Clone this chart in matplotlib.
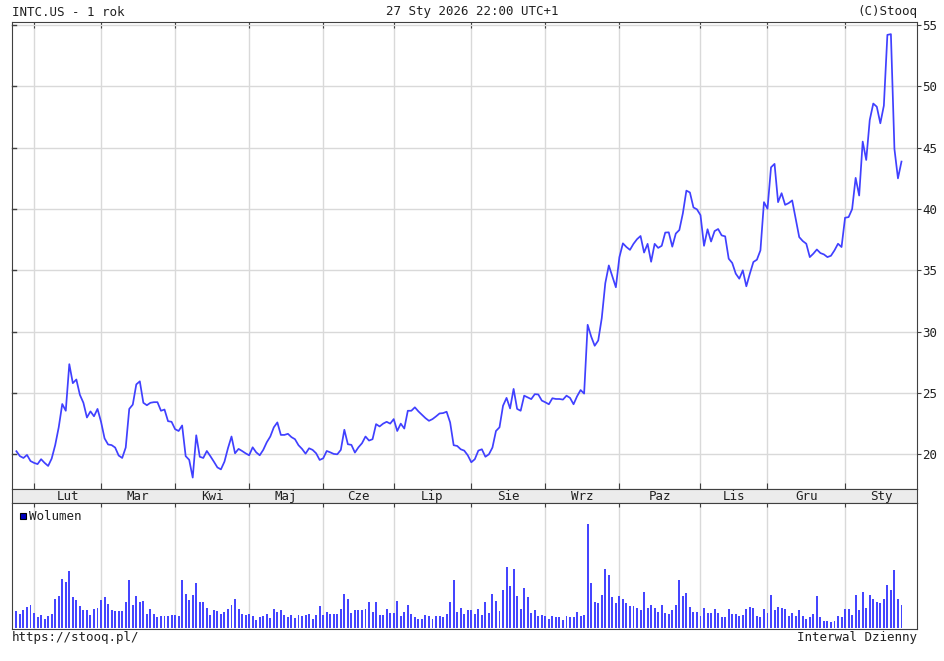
import matplotlib
matplotlib.use("Agg")
import matplotlib.pyplot as plt
import pandas as pd

plt.rcParams['font.family'] = ['DejaVu Sans Mono']

# sesje od 27.01.2025 do 27.01.2026 (NYSE)
start = '2025-01-27'
end = '2026-01-27'
swieta = ['2025-02-17', '2025-04-18', '2025-05-26', '2025-06-19', '2025-07-04',
          '2025-09-01', '2025-11-27', '2025-12-25', '2026-01-01', '2026-01-19']

miesiace = ['Sty', 'Lut', 'Mar', 'Kwi', 'Maj', 'Cze', 'Lip', 'Sie', 'Wrz',
            'Paz', 'Lis', 'Gru']

# kurs zamkniecia INTC.US
kurs = [20.25, 19.85, 19.7, 19.95, 19.45, 19.3, 19.2, 19.6, 19.3, 19.05,
        19.65, 20.75, 22.2, 24.1, 23.55, 27.35, 25.8, 26.1, 24.85, 24.2,
        23.0, 23.5, 23.1, 23.7, 22.65, 21.3, 20.8, 20.75, 20.55, 19.9,
        19.7, 20.55, 23.7, 24.05, 25.7, 25.95, 24.2, 24.0, 24.2, 24.25,
        24.25, 23.55, 23.65, 22.7, 22.65, 22.05, 21.9, 22.35, 19.85, 19.55,
        18.1, 21.55, 19.8, 19.7, 20.27, 19.85, 19.4, 18.93, 18.77, 19.4,
        20.5, 21.45, 20.08, 20.44, 20.27, 20.08, 19.92, 20.57, 20.16, 19.92,
        20.36, 20.98, 21.45, 22.2, 22.6, 21.58, 21.58, 21.67, 21.4, 21.23,
        20.74, 20.44, 20.05, 20.49, 20.36, 20.08, 19.54, 19.67, 20.27, 20.16,
        20.03, 20.0, 20.36, 22.0, 20.82, 20.77, 20.14, 20.57, 20.9, 21.45,
        21.12, 21.23, 22.46, 22.27, 22.5, 22.65, 22.5, 22.87, 21.9, 22.5,
        22.1, 23.55, 23.55, 23.83, 23.5, 23.22, 22.95, 22.73, 22.87, 23.09,
        23.33, 23.36, 23.47, 22.6, 20.74, 20.68, 20.41, 20.3, 19.92, 19.35,
        19.6, 20.3, 20.41, 19.8, 20.0, 20.55, 21.9, 22.2, 23.96, 24.6,
        23.74, 25.33, 23.7, 23.55, 24.78, 24.64, 24.5, 24.9, 24.88, 24.38,
        24.24, 24.08, 24.57, 24.51, 24.51, 24.46, 24.78, 24.6, 24.08, 24.73,
        25.24, 24.95, 30.56, 29.6, 28.85, 29.28, 31.1, 33.95, 35.4, 34.5,
        33.62, 36.07, 37.2, 36.9, 36.67, 37.16, 37.54, 37.8, 36.45, 37.16,
        35.7, 37.16, 36.83, 37.0, 38.08, 38.1, 36.93, 38.0, 38.29, 39.65,
        41.5, 41.35, 40.13, 39.97, 39.5, 37.0, 38.35, 37.35, 38.2, 38.37,
        37.85, 37.77, 35.95, 35.6, 34.73, 34.32, 35.0, 33.7, 34.73, 35.68,
        35.87, 36.63, 40.56, 40.02, 43.4, 43.68, 40.56, 41.29, 40.34, 40.48,
        40.7, 39.2, 37.71, 37.39, 37.17, 36.08, 36.36, 36.7, 36.41, 36.3,
        36.08, 36.19, 36.63, 37.17, 36.9, 39.29, 39.34, 39.99, 42.54, 41.1,
        45.5, 44.0, 47.26, 48.6, 48.34, 46.99, 48.43, 54.2, 54.26, 44.9,
        42.5, 43.87]

# wolumen (jednostki umowne)
wolumen = [50, 43, 53, 62, 70, 45, 32, 39, 28, 35,
           42, 88, 95, 147, 137, 169, 92, 85, 67, 53,
           53, 39, 57, 60, 85, 92, 73, 55, 50, 50,
           50, 77, 144, 70, 95, 78, 82, 42, 57, 42,
           32, 35, 35, 35, 39, 39, 35, 144, 102, 85,
           98, 134, 78, 78, 60, 39, 53, 50, 42, 49,
           57, 69, 88, 57, 42, 40, 42, 37, 25, 32,
           35, 42, 30, 57, 47, 53, 39, 32, 39, 30,
           39, 35, 39, 42, 28, 39, 67, 39, 49, 42,
           42, 42, 57, 102, 88, 45, 53, 53, 53, 57,
           78, 49, 78, 39, 39, 57, 45, 45, 81, 35,
           49, 70, 42, 32, 28, 28, 39, 35, 28, 35,
           35, 32, 42, 78, 144, 49, 60, 42, 53,
           53, 43, 57, 39, 78, 45, 102, 81, 50, 113,
           183, 127, 176, 95, 57, 120, 92, 45, 53, 35,
           39, 35, 28, 35, 32, 32, 25, 35, 32, 32,
           49, 35, 39, 310, 134, 78, 74, 99, 176, 158,
           92, 74, 95, 88, 74, 67, 67, 60, 53, 109,
           60, 70, 60, 49, 70, 46, 42, 53, 70, 144,
           95, 106, 63, 49, 49, 35, 60, 46, 46, 57,
           46, 32, 32, 57, 42, 42, 35, 39, 57, 63,
           60, 35, 32, 57, 46, 99, 53, 63, 60, 57,
           35, 46, 35, 53, 35, 28, 32, 42, 95, 32,
           21, 21, 18, 21, 35, 32, 57, 57, 39, 99,
           53, 109, 60, 99, 88, 78, 74, 88, 130, 113,
           172, 88, 70]

daty = pd.bdate_range(start, end, freq='C', holidays=swieta)
x = list(range(len(daty)))

# poczatki miesiecy
granice = [i for i in range(1, len(daty)) if daty[i].month != daty[i - 1].month]
xmin, xmax = -1.25, 255.4

W, H = 945, 661
fig = plt.figure(figsize=(W / 100, H / 100), dpi=100)
fig.patch.set_facecolor('white')

def box(l, t, r, b):
    return [l / W, 1 - b / H, (r - l) / W, (b - t) / H]

linia = '#4040ff'
ramka = '#404040'
siatka = '#d9d9d9'
tekst = '#202020'
fs = 9

# wykres kursu
ax = fig.add_axes(box(12, 22, 917, 489))
ax.plot(x, kurs, color=linia, lw=1.25)
ax.set_xlim(xmin, xmax)
ax.set_ylim(17.17, 55.25)
ax.set_xticks(granice)
ax.set_yticks(range(20, 56, 5))
ax.grid(True, color=siatka, lw=1)
ax.set_axisbelow(True)
ax.tick_params(axis='x', direction='in', length=4, top=True, bottom=True,
               labelbottom=False, color=ramka)
ax.tick_params(axis='y', direction='out', length=3, left=False, right=True,
               labelleft=False, labelright=True, labelsize=fs, pad=1,
               color=ramka, labelcolor=tekst)
for t in ax.get_yticks():
    ax.plot([xmin, xmin + 1.1], [t, t], color=ramka, lw=1, clip_on=False)
for s in ax.spines.values():
    s.set_color(ramka)

# pasek z miesiacami
axm = fig.add_axes(box(12, 489, 917, 503))
axm.set_facecolor('#ececec')
axm.set_xlim(xmin, xmax)
axm.set_ylim(0, 1)
axm.set_xticks([])
axm.set_yticks([])
for s in axm.spines.values():
    s.set_color(ramka)
kon = granice + [xmax]
for a, b in zip(kon[:-1], kon[1:]):
    m = daty[a].month
    axm.text((a + b) / 2, 0.45, miesiace[m - 1], ha='center', va='center',
             fontsize=fs, color=tekst)

# wolumen
axv = fig.add_axes(box(12, 503, 917, 629))
axv.bar(x, wolumen, width=0.55, color='#4545ff')
axv.set_xlim(xmin, xmax)
axv.set_ylim(-2.5, 373)
axv.set_xticks(granice)
axv.set_yticks([])
axv.grid(True, axis='x', color=siatka, lw=1)
axv.set_axisbelow(True)
axv.tick_params(axis='x', direction='in', length=3, top=True, bottom=False,
                labelbottom=False, color=ramka)
for s in axv.spines.values():
    s.set_color(ramka)
fig.patches.append(plt.Rectangle((20 / W, 1 - 519 / H), 6 / W, 6 / H,
                                 transform=fig.transFigure, facecolor='#0000c0',
                                 edgecolor='black', lw=0.8))
fig.text(29 / W, 1 - 516 / H, 'Wolumen', fontsize=fs, va='center', ha='left',
         color=tekst)

# naglowek i stopka
fig.text(12 / W, 1 - 12 / H, 'INTC.US - 1 rok', fontsize=fs, va='center',
         ha='left', color=tekst)
fig.text(472 / W, 1 - 12 / H, '27 Sty 2026 22:00 UTC+1', fontsize=fs,
         va='center', ha='center', color=tekst)
fig.text(917 / W, 1 - 12 / H, '(C)Stooq', fontsize=fs, va='center', ha='right',
         color=tekst)
fig.text(12 / W, 1 - 638 / H, 'https://stooq.pl/', fontsize=fs, va='center',
         ha='left', color=tekst)
fig.text(917 / W, 1 - 638 / H, 'Interwal Dzienny', fontsize=fs, va='center',
         ha='right', color=tekst)

fig.savefig('out.png', dpi=100)
